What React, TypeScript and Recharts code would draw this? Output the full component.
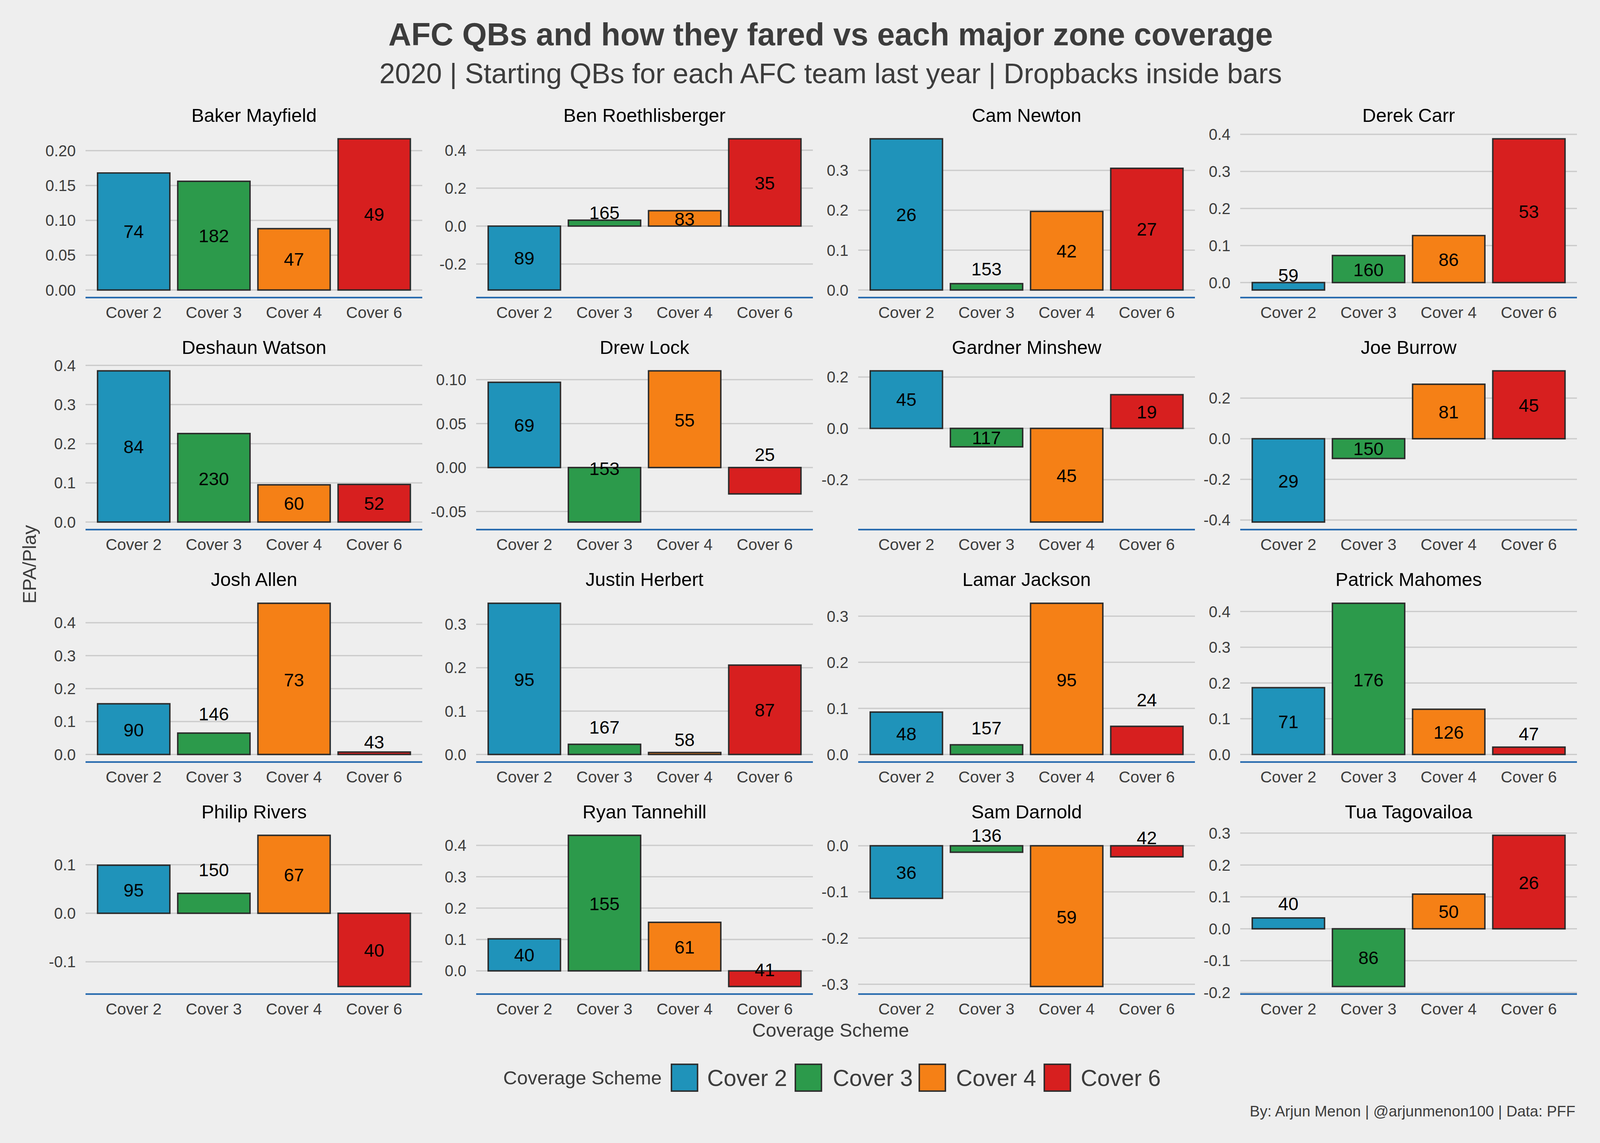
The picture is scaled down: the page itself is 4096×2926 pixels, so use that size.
import React from "react";
import { ComposedChart, Bar, Cell, Scatter, XAxis, YAxis, CartesianGrid } from "recharts";

// facet order (alphabetical, 4 per row)
const qbNames = [
  "Baker Mayfield", "Ben Roethlisberger", "Cam Newton", "Derek Carr",
  "Deshaun Watson", "Drew Lock", "Gardner Minshew", "Joe Burrow",
  "Josh Allen", "Justin Herbert", "Lamar Jackson", "Patrick Mahomes",
  "Philip Rivers", "Ryan Tannehill", "Sam Darnold", "Tua Tagovailoa",
];
const coverages = ["Cover 2", "Cover 3", "Cover 4", "Cover 6"];
const coverageColors = ["#1F93BA", "#2C9A4B", "#F58016", "#D71F1F"];

// EPA/play per coverage
const epaPerPlay = [
  [0.168, 0.156, 0.088, 0.217],
  [-0.337, 0.031, 0.081, 0.46],
  [0.379, 0.016, 0.197, 0.305],
  [-0.02, 0.073, 0.127, 0.388],
  [0.386, 0.226, 0.095, 0.096],
  [0.097, -0.062, 0.11, -0.03],
  [0.224, -0.072, -0.365, 0.131],
  [-0.41, -0.097, 0.268, 0.334],
  [0.154, 0.065, 0.459, 0.0074],
  [0.3485, 0.0235, 0.0045, 0.206],
  [0.092, 0.021, 0.328, 0.061],
  [0.187, 0.423, 0.1265, 0.0205],
  [0.099, 0.041, 0.1605, -0.151],
  [0.102, 0.432, 0.1545, -0.05],
  [-0.114, -0.014, -0.305, -0.024],
  [0.034, -0.181, 0.1086, 0.293],
];

// dropbacks (bar labels)
const dropbacks = [
  [74, 182, 47, 49],
  [89, 165, 83, 35],
  [26, 153, 42, 27],
  [59, 160, 86, 53],
  [84, 230, 60, 52],
  [69, 153, 55, 25],
  [45, 117, 45, 19],
  [29, 150, 81, 45],
  [90, 146, 73, 43],
  [95, 167, 58, 87],
  [48, 157, 95, 24],
  [71, 176, 126, 47],
  [95, 150, 67, 40],
  [40, 155, 61, 41],
  [36, 136, 59, 42],
  [40, 86, 50, 26],
];

// where each dropback label sits, in EPA units
const labelPos = [
  [0.084, 0.078, 0.044, 0.1085],
  [-0.169, 0.0715, 0.038, 0.227],
  [0.1885, 0.053, 0.098, 0.153],
  [0.0196, 0.035, 0.0625, 0.192],
  [0.192, 0.111, 0.0476, 0.048],
  [0.048, -0.001, 0.054, 0.015],
  [0.112, -0.036, -0.184, 0.0635],
  [-0.208, -0.049, 0.131, 0.164],
  [0.075, 0.1235, 0.227, 0.0375],
  [0.1725, 0.0634, 0.0338, 0.103],
  [0.045, 0.058, 0.162, 0.119],
  [0.092, 0.209, 0.0624, 0.058],
  [0.0477, 0.0893, 0.0788, -0.0765],
  [0.0503, 0.214, 0.0763, 0.0036],
  [-0.058, 0.0226, -0.154, 0.0173],
  [0.079, -0.091, 0.0537, 0.1447],
];

const yTicks = [
  [0, 0.05, 0.1, 0.15, 0.2],
  [-0.2, 0, 0.2, 0.4],
  [0, 0.1, 0.2, 0.3],
  [0, 0.1, 0.2, 0.3, 0.4],
  [0, 0.1, 0.2, 0.3, 0.4],
  [-0.05, 0, 0.05, 0.1],
  [-0.2, 0, 0.2],
  [-0.4, -0.2, 0, 0.2],
  [0, 0.1, 0.2, 0.3, 0.4],
  [0, 0.1, 0.2, 0.3],
  [0, 0.1, 0.2, 0.3],
  [0, 0.1, 0.2, 0.3, 0.4],
  [-0.1, 0, 0.1],
  [0, 0.1, 0.2, 0.3, 0.4],
  [-0.3, -0.2, -0.1, 0],
  [-0.2, -0.1, 0, 0.1, 0.2, 0.3],
];
const tickDecimals = [2, 1, 1, 1, 1, 2, 1, 1, 1, 1, 1, 1, 1, 1, 1, 1];

const FONT = '"Liberation Sans", Arial, Helvetica, sans-serif';
const BG = "#EEEEEE";
const TXT = "#3C3C3C";
const OUTLINE = "#2B2B2B";

const W = 4096;
const H = 2926;
const COL_LEFT = [219.4, 1218.9, 2197.1, 3175.2];
const ROW_TOP = [335.9, 930.2, 1524.5, 2118.8];
const PW = 862;
const PH = 425.8;
const Y_W = 200;
const X_H = 90;
const TOP_M = 40; // room so top tick labels / bar labels are not clipped
const PAD = PW / 4.2 * 0.1;

function Panel({ idx }: { idx: number }) {
  const col = idx % 4;
  const row = Math.floor(idx / 4);
  const data = coverages.map((c, i) => ({
    cov: c,
    epa: epaPerPlay[idx][i],
    n: dropbacks[idx][i],
    ly: labelPos[idx][i],
  }));
  const all = [0, ...epaPerPlay[idx], ...labelPos[idx]];
  const lo = Math.min(...all);
  const hi = Math.max(...all);
  const ex = (hi - lo) * 0.05;
  const dec = tickDecimals[idx];

  return (
    <div style={{ position: "absolute", left: COL_LEFT[col] - Y_W, top: ROW_TOP[row] - TOP_M }}>
      <ComposedChart
        width={PW + Y_W}
        height={PH + X_H + TOP_M}
        data={data}
        margin={{ top: TOP_M, right: 0, bottom: 0, left: 0 }}
        barCategoryGap="5%"
      >
        <CartesianGrid vertical={false} syncWithTicks stroke="#CBCBCB" strokeWidth={3.3} />
        <XAxis
          dataKey="cov"
          type="category"
          height={X_H}
          interval={0}
          padding={{ left: PAD, right: PAD }}
          tickLine={false}
          tickSize={0}
          tickMargin={23.5}
          axisLine={{ stroke: "#2166AC", strokeWidth: 4 }}
          tick={{ fontSize: 41, fill: TXT, fontFamily: FONT }}
        />
        <YAxis
          type="number"
          width={Y_W}
          domain={[lo - ex, hi + ex]}
          allowDataOverflow
          ticks={yTicks[idx]}
          interval={0}
          tickLine={false}
          tickSize={0}
          tickMargin={25}
          axisLine={false}
          tickFormatter={(v: number) => v.toFixed(dec)}
          tick={{ fontSize: 40, fill: TXT, fontFamily: FONT }}
        />
        <Bar dataKey="epa" isAnimationActive={false} stroke={OUTLINE} strokeWidth={3.7}>
          {data.map((d, i) => (
            <Cell key={d.cov} fill={coverageColors[i]} />
          ))}
        </Bar>
        <Scatter
          dataKey="ly"
          isAnimationActive={false}
          shape={(p: any) => (
            <text
              x={p.cx}
              y={p.cy}
              dy="0.355em"
              textAnchor="middle"
              fontSize={46.5}
              fontFamily={FONT}
              fill="#000000"
            >
              {p.payload.n}
            </text>
          )}
        />
      </ComposedChart>
    </div>
  );
}

export default function App() {
  const legendKeyX = [1718.9, 2036.1, 2353.4, 2673.4];
  const legendLabelX = [1810.3, 2132, 2447.6, 2766.8];
  return (
    <div
      style={{
        position: "absolute",
        left: 0,
        top: 0,
        width: W,
        height: H,
        background: BG,
        fontFamily: FONT,
        overflow: "hidden",
      }}
    >
      <svg width={W} height={H} style={{ position: "absolute", left: 0, top: 0 }}>
        <text x={2126.4} y={87.7} dy="0.355em" textAnchor="middle" fontSize={81} fontWeight="bold" fill={TXT} fontFamily={FONT}>
          AFC QBs and how they fared vs each major zone coverage
        </text>
        <text x={2126.4} y={187.1} dy="0.355em" textAnchor="middle" fontSize={72} fill={TXT} fontFamily={FONT}>
          2020 | Starting QBs for each AFC team last year | Dropbacks inside bars
        </text>
        {qbNames.map((q, i) => (
          <text
            key={q}
            x={COL_LEFT[i % 4] + PW / 2}
            y={ROW_TOP[Math.floor(i / 4)] - 41.5}
            dy="0.355em"
            textAnchor="middle"
            fontSize={48.5}
            fill="#000000"
            fontFamily={FONT}
          >
            {q}
          </text>
        ))}
        <text
          x={75}
          y={1444.6}
          dy="0.355em"
          textAnchor="middle"
          fontSize={48.5}
          fill={TXT}
          fontFamily={FONT}
          transform="rotate(-90 75 1444.6)"
        >
          EPA/Play
        </text>
        <text x={2126.4} y={2637} dy="0.355em" textAnchor="middle" fontSize={48.5} fill={TXT} fontFamily={FONT}>
          Coverage Scheme
        </text>
        <text x={1288.3} y={2759} dy="0.355em" fontSize={49} fill={TXT} fontFamily={FONT}>
          Coverage Scheme
        </text>
        {coverages.map((c, i) => (
          <g key={c}>
            <rect
              x={legendKeyX[i]}
              y={2724.5}
              width={66.8}
              height={68.6}
              fill={coverageColors[i]}
              stroke={OUTLINE}
              strokeWidth={3.7}
            />
            <text x={legendLabelX[i]} y={2759} dy="0.355em" fontSize={58.5} fill={TXT} fontFamily={FONT}>
              {c}
            </text>
          </g>
        ))}
        <text x={4033} y={2844} dy="0.355em" textAnchor="end" fontSize={38.8} fill={TXT} fontFamily={FONT}>
          By: Arjun Menon | @arjunmenon100 | Data: PFF
        </text>
      </svg>
      {qbNames.map((q, i) => (
        <Panel key={q} idx={i} />
      ))}
    </div>
  );
}
